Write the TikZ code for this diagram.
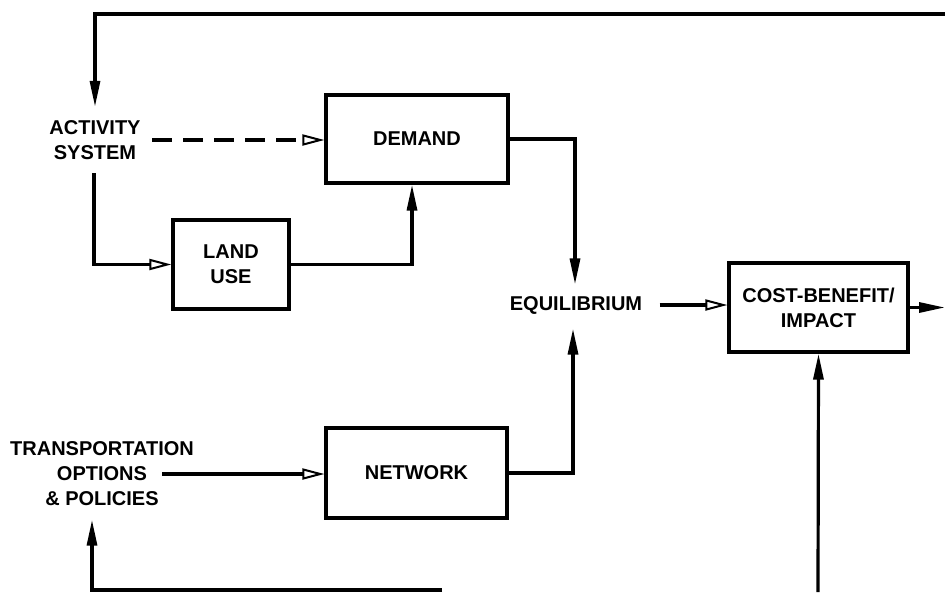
\documentclass[tikz,border=0pt]{standalone}
\usepackage{fontspec}
\setmainfont{Liberation Sans}
\usetikzlibrary{arrows.meta}
\begin{document}
\begin{tikzpicture}[x=1pt,y=-1pt,
  line width=3.2pt,
  txt/.style={font=\fontsize{20}{25}\selectfont\bfseries, align=center},
  box/.style={draw, rectangle, line width=3.2pt, txt, inner sep=0pt},
  lbl/.style={txt, inner sep=0pt},
  openarr/.style={-{Triangle[open, length=22pt, width=11pt, line width=2pt]}},
  fillarr/.style={-{Triangle[length=26pt, width=10pt]}},
]
\useasboundingbox (0,0) rectangle (945,592);
\node[lbl] (act) at (95,140) {ACTIVITY\\SYSTEM};
\node[box, minimum width=182pt, minimum height=88pt] (demand) at (417,139) {DEMAND};
\node[box, minimum width=116pt, minimum height=89pt] (landuse) at (231,264.5) {LAND\\USE};
\node[lbl] (equil) at (576,305) {EQUILIBRIUM};
\node[box, minimum width=179pt, minimum height=89pt] (cb) at (818.5,307.5) {COST-BENEFIT/\\IMPACT};
\node[box, minimum width=181pt, minimum height=90pt] (network) at (416.5,473) {NETWORK};
\node[lbl] (trans) at (102,474) {TRANSPORTATION\\OPTIONS\\\& POLICIES};
\coordinate (topR) at (945,14);
\coordinate (rightR) at (945,307.5);
\coordinate (botCB) at (818,592);
\coordinate (botL) at (442,590);
% feedback from top
\draw[fillarr] (topR) -- (95,14) -- ([yshift=12pt]act.north);
% activity -> demand (dashed)
\draw[openarr, dash pattern=on 20pt off 11pt] ([xshift=10pt]act.east) -- (act.east -| demand.west);
% activity -> land use
\draw[openarr] ([xshift=-1pt,yshift=-12pt]act.south) |- (landuse.west);
% land use -> demand
\draw[fillarr] (landuse.east) -| ([xshift=-5pt]demand.south);
% demand -> equilibrium
\draw[fillarr] (demand.east) -| ([xshift=-1pt,yshift=10pt]equil.north);
% network -> equilibrium
\draw[fillarr] (network.east) -| ([yshift=-13pt,xshift=-3pt]equil.south);
% equilibrium -> cost-benefit
\draw[openarr] ([xshift=16pt]equil.east) -- (equil.east -| cb.west);
% cost-benefit -> out
\draw[fillarr] (cb.east) -- (rightR);
% bottom -> cost-benefit
\draw[fillarr] (botCB) -- (cb.south);
% transportation -> network
\draw[openarr] ([xshift=60pt]trans.center) -- (trans.center -| network.west);
% bottom feedback -> transportation
\draw[fillarr] (botL) -| ([xshift=-10pt,yshift=-12pt]trans.south);
\end{tikzpicture}
\end{document}
